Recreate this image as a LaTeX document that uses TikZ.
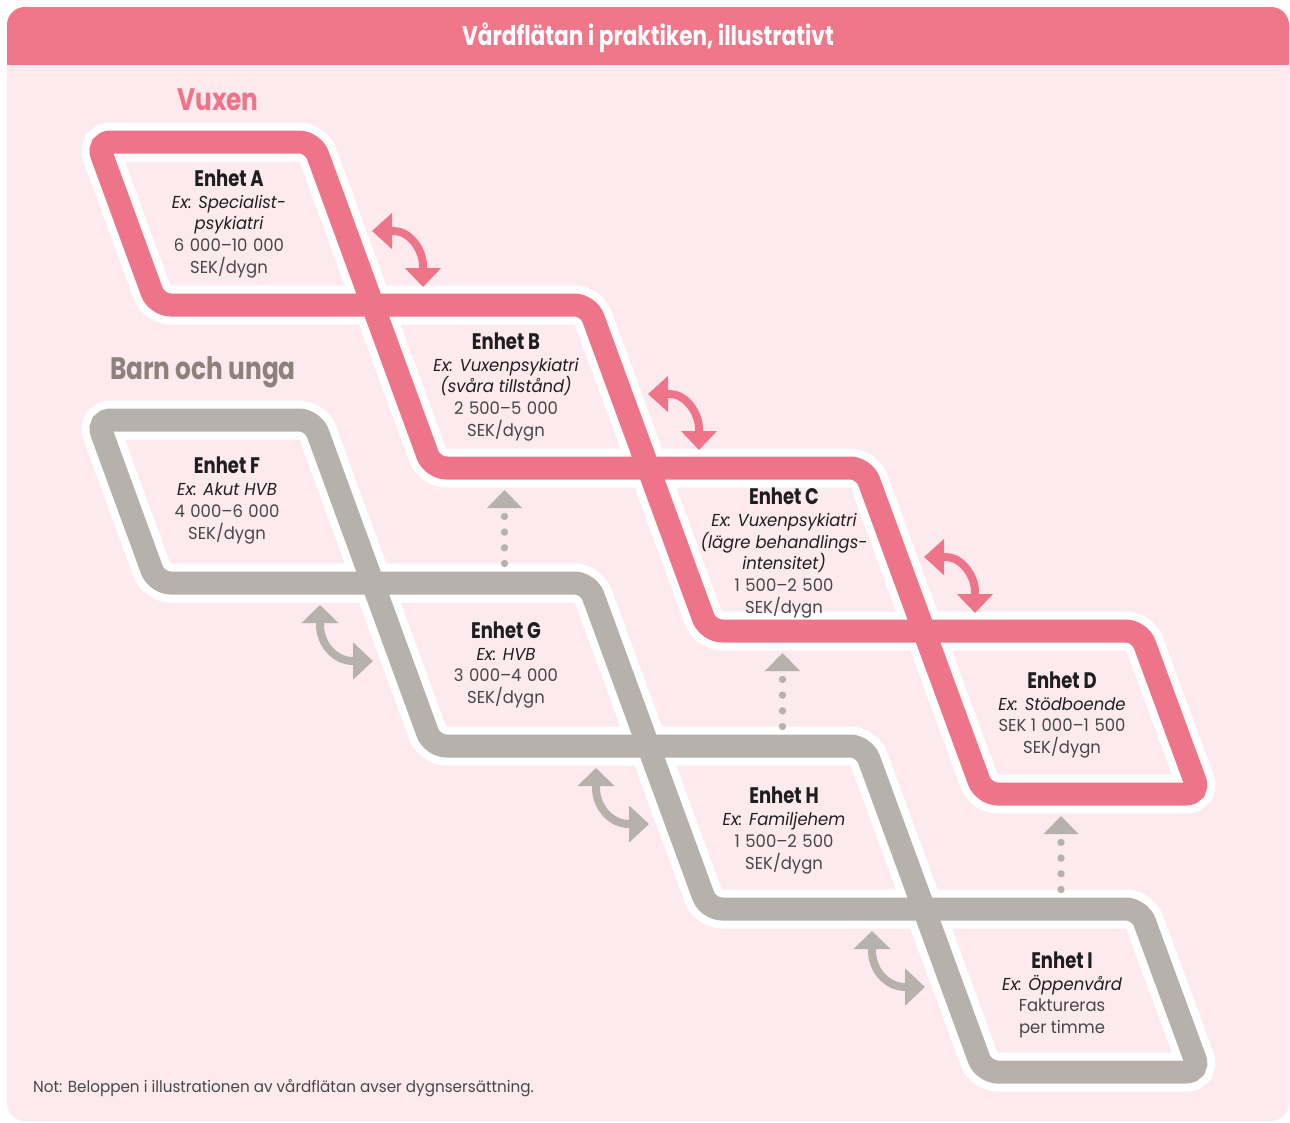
\documentclass[tikz,border=0pt]{standalone}
\usepackage{fontspec}
\setmainfont{Poppins}[FakeStretch=0.95]
\newfontfamily\condfont{Poppins}[FakeStretch=0.8]
\usetikzlibrary{arrows.meta}
\definecolor{rose}{HTML}{EE7589}
\definecolor{headrose}{HTML}{EF7789}
\definecolor{bgrose}{HTML}{FCEAEE}
\definecolor{stone}{HTML}{B7B1AC}
\definecolor{stonetext}{HTML}{8C827B}
\definecolor{ink}{HTML}{1E1E1E}
\definecolor{bodyink}{HTML}{474747}
\newcommand{\unitname}[1]{{\condfont\bfseries\fontsize{22.5}{21.8}\selectfont\color{ink}#1}}
\newcommand{\unitex}[1]{{\itshape\color{ink}#1}}
\newcommand{\nsp}{\hspace{0.32em}}
\begin{document}
\begin{tikzpicture}[x=1pt,y=-1pt,
  bandwhite/.style={draw=white, line width=39pt, rounded corners=14pt},
  bandrose/.style={draw=rose, line width=23pt, rounded corners=14pt},
  bandstone/.style={draw=stone, line width=23pt, rounded corners=14pt},
  unit/.style={align=center, text=bodyink, font=\fontsize{17.3}{21.8}\selectfont, inner sep=0pt},
  swaprose/.style={draw=rose, line width=8pt, {Triangle[length=20pt,width=35pt]}-{Triangle[length=19pt,width=35pt]}},
  swapstone/.style={draw=stone, line width=8pt, {Triangle[length=18pt,width=36pt]}-{Triangle[length=20pt,width=36pt]}},
  dotarrow/.style={draw=stone, line width=7.3pt, line cap=round, dash pattern=on 0pt off 15.7pt, -{Triangle[length=18pt,width=34pt]}},
  pinkswap/.pic={\draw[swaprose] (0,0) -- (22,0) .. controls (37,0) and (51,18) .. (51,35) -- (51,56);},
  grayswap/.pic={\draw[swapstone] (0,0) -- (0,20) .. controls (0,39) and (15,56) .. (33,56) -- (53,56);}
]
\useasboundingbox (0,0) rectangle (1290,1122);
\fill[white] (0,0) rectangle (1290,1122);
\fill[bgrose, rounded corners=18pt] (7,7) rectangle (1289,1121);
\fill[headrose, rounded corners=18pt] (7,7) rectangle (1289,90);
\fill[bgrose] (7,65) rectangle (1289,120);
\node[text=white, font=\condfont\bfseries\fontsize{27}{30}\selectfont] (title) at (648,38) {Vårdflätan i praktiken, illustrativt};

\node[text=rose, font=\condfont\bfseries\fontsize{31}{34}\selectfont] (vuxen) at (218,100) {Vuxen};
\node[text=stonetext, font=\condfont\bfseries\fontsize{31}{34}\selectfont] (barn) at (203,372) {Barn och unga};

% pink chain corners
\coordinate (Atl) at (97,142);
\coordinate (Atr) at (313,142);
\coordinate (Abl) at (156.7,305);
\coordinate (Btr) at (588.4,305);
\coordinate (Bbl) at (432.4,468);
\coordinate (Ctr) at (864.1,468);
\coordinate (Cbl) at (708.1,631);
\coordinate (Dtr) at (1139.8,631);
\coordinate (Dbl) at (983.8,794);
\coordinate (Dbr) at (1199.8,794);
% gray chain corners
\coordinate (Ftl) at (97,420);
\coordinate (Ftr) at (313,420);
\coordinate (Fbl) at (156.7,583);
\coordinate (Gtr) at (588.4,583);
\coordinate (Gbl) at (432.4,746);
\coordinate (Htr) at (864.1,746);
\coordinate (Hbl) at (708.1,909);
\coordinate (Itr) at (1139.8,909);
\coordinate (Ibl) at (983.8,1072);
\coordinate (Ibr) at (1199.8,1072);

\draw[bandwhite] (Atr) -- (Bbl) -- (Ctr) -- (Dbl) -- (Dbr) -- (Dtr) -- (Cbl) -- (Btr) -- (Abl) -- (Atl) -- cycle;
\draw[bandwhite] (Ftr) -- (Gbl) -- (Htr) -- (Ibl) -- (Ibr) -- (Itr) -- (Hbl) -- (Gtr) -- (Fbl) -- (Ftl) -- cycle;
\draw[bandrose] (Atr) -- (Bbl) -- (Ctr) -- (Dbl) -- (Dbr) -- (Dtr) -- (Cbl) -- (Btr) -- (Abl) -- (Atl) -- cycle;
\draw[bandstone] (Ftr) -- (Gbl) -- (Htr) -- (Ibl) -- (Ibr) -- (Itr) -- (Hbl) -- (Gtr) -- (Fbl) -- (Ftl) -- cycle;

% unit texts
\node[unit] (A) at (229,224) {\unitname{Enhet A}\\ \unitex{Ex: Specialist-}\\ \unitex{psykiatri}\\ 6\nsp000–10\nsp000\\ SEK/dygn};
\node[unit] (B) at (506,387) {\unitname{Enhet B}\\ \unitex{Ex: Vuxenpsykiatri}\\ \unitex{(svåra tillstånd)}\\ 2\nsp500–5\nsp000\\ SEK/dygn};
\node[unit] (C) at (784,553) {\unitname{Enhet C}\\ \unitex{Ex: Vuxenpsykiatri}\\ \unitex{(lägre behandlings-}\\ \unitex{intensitet)}\\ 1\nsp500–2\nsp500\\ SEK/dygn};
\node[unit] (D) at (1062,715) {\unitname{Enhet D}\\ \unitex{Ex: Stödboende}\\ SEK 1\nsp000–1\nsp500\\ SEK/dygn};
\node[unit] (F) at (227,500.5) {\unitname{Enhet F}\\ \unitex{Ex: Akut HVB}\\ 4\nsp000–6\nsp000\\ SEK/dygn};
\node[unit] (G) at (506,665) {\unitname{Enhet G}\\ \unitex{Ex: HVB}\\ 3\nsp000–4\nsp000\\ SEK/dygn};
\node[unit] (H) at (784,830.5) {\unitname{Enhet H}\\ \unitex{Ex: Familjehem}\\ 1\nsp500–2\nsp500\\ SEK/dygn};
\node[unit] (I) at (1062,995) {\unitname{Enhet I}\\ \unitex{Ex: Öppenvård}\\ Faktureras\\ per timme};

% swap arrows
\pic (ab) at (372,231) {pinkswap};
\pic (bc) at (648,394) {pinkswap};
\pic (cd) at (924,557) {pinkswap};
\pic (fg) at (320,605) {grayswap};
\pic (gh) at (596,768) {grayswap};
\pic (hi) at (872,931) {grayswap};

% dotted upward arrows
\coordinate (gB0) at (504.5,563.5); \coordinate (gB1) at (504.5,490);
\coordinate (hC0) at (782.5,726.5); \coordinate (hC1) at (782.5,653);
\coordinate (iD0) at (1061,889.5);  \coordinate (iD1) at (1061,816);
\draw[dotarrow] (gB0) -- (gB1);
\draw[dotarrow] (hC0) -- (hC1);
\draw[dotarrow] (iD0) -- (iD1);

\node[anchor=west, text=bodyink, font=\fontsize{16}{19}\selectfont, inner sep=0pt] (note) at (33,1088) {Not: Beloppen i illustrationen av vårdflätan avser dygnsersättning.};
\end{tikzpicture}
\end{document}
